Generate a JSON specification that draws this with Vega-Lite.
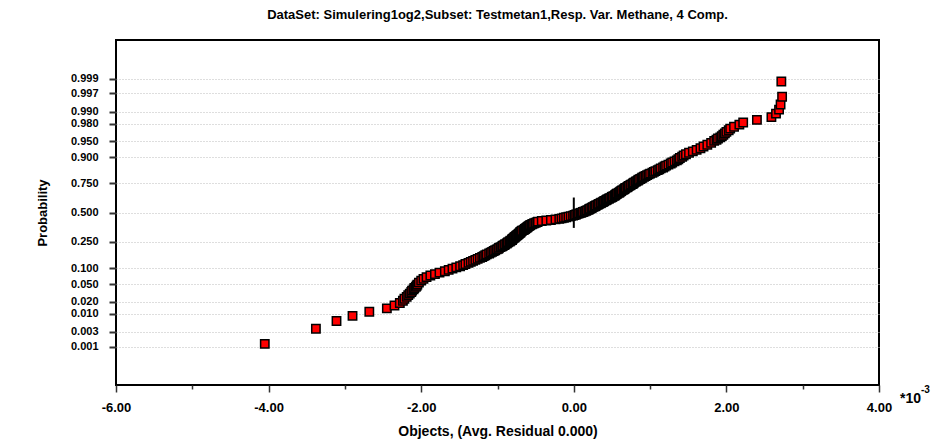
{
  "$schema": "https://vega.github.io/schema/vega-lite/v6.json",
  "width": 763,
  "height": 345,
  "autosize": {"type": "none"},
  "padding": {"left": 116, "top": 40, "right": 53, "bottom": 59},
  "background": "white",
  "title": {"text": "DataSet: Simulering1og2,Subset: Testmetan1,Resp. Var. Methane, 4 Comp.", "font": "Liberation Sans", "fontSize": 13, "fontWeight": "bold", "color": "black", "anchor": "middle", "offset": 18},
  "config": {"view": {"stroke": "black", "strokeWidth": 2}, "font": "Liberation Sans"},
  "resolve": {"scale": {"x": "shared", "y": "shared"}, "axis": {"x": "independent"}},
  "layer": [
    {
      "data": {"values": [
        {"res": -4.05, "score": -3.023}, {"res": -3.38, "score": -2.673}, {"res": -3.11, "score": -2.495}, {"res": -2.90, "score": -2.376}, {"res": -2.68, "score": -2.282},
        {"res": -2.45, "score": -2.204}, {"res": -2.35, "score": -2.138}, {"res": -2.28, "score": -2.080}, {"res": -2.24, "score": -2.029}, {"res": -2.22, "score": -1.982},
        {"res": -2.19, "score": -1.939}, {"res": -2.17, "score": -1.900}, {"res": -2.15, "score": -1.863}, {"res": -2.13, "score": -1.828}, {"res": -2.12, "score": -1.796},
        {"res": -2.10, "score": -1.765}, {"res": -2.09, "score": -1.736}, {"res": -2.07, "score": -1.709}, {"res": -2.06, "score": -1.682}, {"res": -2.05, "score": -1.657},
        {"res": -2.03, "score": -1.610}, {"res": -2.00, "score": -1.566}, {"res": -1.97, "score": -1.525}, {"res": -1.93, "score": -1.485}, {"res": -1.88, "score": -1.448},
        {"res": -1.82, "score": -1.414}, {"res": -1.76, "score": -1.381}, {"res": -1.69, "score": -1.348}, {"res": -1.64, "score": -1.318}, {"res": -1.59, "score": -1.289},
        {"res": -1.54, "score": -1.261}, {"res": -1.49, "score": -1.233}, {"res": -1.45, "score": -1.207}, {"res": -1.42, "score": -1.182}, {"res": -1.38, "score": -1.157},
        {"res": -1.35, "score": -1.133}, {"res": -1.32, "score": -1.109}, {"res": -1.29, "score": -1.086}, {"res": -1.26, "score": -1.064}, {"res": -1.23, "score": -1.042},
        {"res": -1.20, "score": -1.021}, {"res": -1.18, "score": -1.000}, {"res": -1.16, "score": -0.980}, {"res": -1.14, "score": -0.959}, {"res": -1.11, "score": -0.940},
        {"res": -1.09, "score": -0.921}, {"res": -1.07, "score": -0.901}, {"res": -1.05, "score": -0.883}, {"res": -1.03, "score": -0.865}, {"res": -1.01, "score": -0.846},
        {"res": -0.99, "score": -0.829}, {"res": -0.98, "score": -0.811}, {"res": -0.96, "score": -0.794}, {"res": -0.94, "score": -0.777}, {"res": -0.93, "score": -0.760},
        {"res": -0.91, "score": -0.743}, {"res": -0.90, "score": -0.727}, {"res": -0.88, "score": -0.711}, {"res": -0.87, "score": -0.694}, {"res": -0.86, "score": -0.679},
        {"res": -0.84, "score": -0.663}, {"res": -0.83, "score": -0.647}, {"res": -0.81, "score": -0.632}, {"res": -0.81, "score": -0.617}, {"res": -0.80, "score": -0.602},
        {"res": -0.79, "score": -0.587}, {"res": -0.78, "score": -0.572}, {"res": -0.77, "score": -0.557}, {"res": -0.76, "score": -0.543}, {"res": -0.75, "score": -0.528},
        {"res": -0.74, "score": -0.514}, {"res": -0.73, "score": -0.499}, {"res": -0.72, "score": -0.485}, {"res": -0.71, "score": -0.471}, {"res": -0.70, "score": -0.457},
        {"res": -0.70, "score": -0.444}, {"res": -0.69, "score": -0.430}, {"res": -0.68, "score": -0.416}, {"res": -0.66, "score": -0.402}, {"res": -0.65, "score": -0.389},
        {"res": -0.64, "score": -0.375}, {"res": -0.63, "score": -0.362}, {"res": -0.62, "score": -0.349}, {"res": -0.61, "score": -0.335}, {"res": -0.60, "score": -0.322},
        {"res": -0.59, "score": -0.309}, {"res": -0.58, "score": -0.296}, {"res": -0.57, "score": -0.283}, {"res": -0.55, "score": -0.270}, {"res": -0.54, "score": -0.257},
        {"res": -0.52, "score": -0.244}, {"res": -0.50, "score": -0.231}, {"res": -0.48, "score": -0.218}, {"res": -0.47, "score": -0.205}, {"res": -0.42, "score": -0.192},
        {"res": -0.36, "score": -0.180}, {"res": -0.30, "score": -0.167}, {"res": -0.24, "score": -0.154}, {"res": -0.19, "score": -0.142}, {"res": -0.16, "score": -0.129},
        {"res": -0.13, "score": -0.116}, {"res": -0.10, "score": -0.104}, {"res": -0.07, "score": -0.091}, {"res": -0.04, "score": -0.079}, {"res": -0.01, "score": -0.066},
        {"res": 0.01, "score": -0.053}, {"res": 0.03, "score": -0.041}, {"res": 0.05, "score": -0.028}, {"res": 0.07, "score": -0.016}, {"res": 0.09, "score": -0.003},
        {"res": 0.10, "score": 0.003}, {"res": 0.12, "score": 0.016}, {"res": 0.14, "score": 0.028}, {"res": 0.16, "score": 0.041}, {"res": 0.17, "score": 0.053},
        {"res": 0.19, "score": 0.066}, {"res": 0.20, "score": 0.079}, {"res": 0.21, "score": 0.091}, {"res": 0.23, "score": 0.104}, {"res": 0.24, "score": 0.116},
        {"res": 0.25, "score": 0.129}, {"res": 0.27, "score": 0.142}, {"res": 0.28, "score": 0.154}, {"res": 0.29, "score": 0.167}, {"res": 0.31, "score": 0.180},
        {"res": 0.32, "score": 0.192}, {"res": 0.33, "score": 0.205}, {"res": 0.35, "score": 0.218}, {"res": 0.36, "score": 0.231}, {"res": 0.38, "score": 0.244},
        {"res": 0.39, "score": 0.257}, {"res": 0.40, "score": 0.270}, {"res": 0.42, "score": 0.283}, {"res": 0.43, "score": 0.296}, {"res": 0.44, "score": 0.309},
        {"res": 0.46, "score": 0.322}, {"res": 0.47, "score": 0.335}, {"res": 0.49, "score": 0.349}, {"res": 0.50, "score": 0.362}, {"res": 0.51, "score": 0.375},
        {"res": 0.53, "score": 0.389}, {"res": 0.54, "score": 0.402}, {"res": 0.55, "score": 0.416}, {"res": 0.56, "score": 0.430}, {"res": 0.57, "score": 0.444},
        {"res": 0.59, "score": 0.457}, {"res": 0.60, "score": 0.471}, {"res": 0.61, "score": 0.485}, {"res": 0.62, "score": 0.499}, {"res": 0.63, "score": 0.514},
        {"res": 0.65, "score": 0.528}, {"res": 0.66, "score": 0.543}, {"res": 0.67, "score": 0.557}, {"res": 0.68, "score": 0.572}, {"res": 0.70, "score": 0.587},
        {"res": 0.71, "score": 0.602}, {"res": 0.72, "score": 0.617}, {"res": 0.74, "score": 0.632}, {"res": 0.75, "score": 0.647}, {"res": 0.77, "score": 0.663},
        {"res": 0.78, "score": 0.679}, {"res": 0.79, "score": 0.694}, {"res": 0.81, "score": 0.711}, {"res": 0.82, "score": 0.727}, {"res": 0.84, "score": 0.743},
        {"res": 0.85, "score": 0.760}, {"res": 0.87, "score": 0.777}, {"res": 0.89, "score": 0.794}, {"res": 0.90, "score": 0.811}, {"res": 0.92, "score": 0.829},
        {"res": 0.94, "score": 0.846}, {"res": 0.96, "score": 0.865}, {"res": 0.98, "score": 0.883}, {"res": 1.00, "score": 0.901}, {"res": 1.03, "score": 0.921},
        {"res": 1.05, "score": 0.940}, {"res": 1.07, "score": 0.959}, {"res": 1.10, "score": 0.980}, {"res": 1.12, "score": 1.000}, {"res": 1.14, "score": 1.021},
        {"res": 1.17, "score": 1.042}, {"res": 1.19, "score": 1.064}, {"res": 1.21, "score": 1.086}, {"res": 1.24, "score": 1.109}, {"res": 1.27, "score": 1.133},
        {"res": 1.29, "score": 1.157}, {"res": 1.32, "score": 1.182}, {"res": 1.35, "score": 1.207}, {"res": 1.37, "score": 1.233}, {"res": 1.39, "score": 1.261},
        {"res": 1.42, "score": 1.289}, {"res": 1.44, "score": 1.318}, {"res": 1.47, "score": 1.348}, {"res": 1.51, "score": 1.381}, {"res": 1.56, "score": 1.414},
        {"res": 1.61, "score": 1.448}, {"res": 1.66, "score": 1.485}, {"res": 1.70, "score": 1.525}, {"res": 1.75, "score": 1.566}, {"res": 1.80, "score": 1.610},
        {"res": 1.84, "score": 1.657}, {"res": 1.87, "score": 1.682}, {"res": 1.89, "score": 1.709}, {"res": 1.92, "score": 1.736}, {"res": 1.94, "score": 1.765},
        {"res": 1.96, "score": 1.796}, {"res": 1.98, "score": 1.828}, {"res": 2.00, "score": 1.863}, {"res": 2.03, "score": 1.900}, {"res": 2.05, "score": 1.939},
        {"res": 2.10, "score": 1.982}, {"res": 2.17, "score": 2.029}, {"res": 2.22, "score": 2.080}, {"res": 2.40, "score": 2.138}, {"res": 2.59, "score": 2.204},
        {"res": 2.65, "score": 2.282}, {"res": 2.69, "score": 2.376}, {"res": 2.71, "score": 2.495}, {"res": 2.73, "score": 2.673}, {"res": 2.72, "score": 3.023}
      ]},
      "mark": {"type": "point", "shape": "square", "filled": true, "fill": "#ff0000", "stroke": "black", "strokeWidth": 1.5, "size": 70, "opacity": 1},
      "encoding": {
        "x": {
          "field": "res", "type": "quantitative",
          "scale": {"domain": [-6, 4], "nice": false, "zero": false},
          "axis": {
            "values": [-6, -4, -2, 0, 2, 4],
            "tickCount": 20,
            "labelExpr": "replace(format(datum.value, '.2f'), '\u2212', '-')",
            "labelFont": "Liberation Sans", "labelFontSize": 13, "labelFontWeight": "bold", "labelColor": "black",
            "labelPadding": 9, "labelFlush": false, "labelOverlap": false,
            "tickSize": 7, "tickColor": "#333333", "tickWidth": 1.5,
            "domain": false, "grid": false,
            "title": "Objects, (Avg. Residual 0.000)",
            "titleFont": "Liberation Sans", "titleFontSize": 14, "titleFontWeight": "bold", "titleColor": "black", "titlePadding": 10
          }
        },
        "y": {
          "field": "score", "type": "quantitative",
          "scale": {"domain": [-3.97, 3.98], "nice": false, "zero": false},
          "axis": {
            "values": [-3.0902, -2.7478, -2.3263, -2.0537, -1.6449, -1.2816, -0.6745, 0, 0.6745, 1.2816, 1.6449, 2.0537, 2.3263, 2.7478, 3.0902],
            "tickCount": 30,
            "labelExpr": "format(cumulativeNormal(datum.value), '.3f')",
            "labelFont": "Liberation Sans", "labelFontSize": 11, "labelFontWeight": "bold", "labelColor": "black",
            "labelPadding": 11, "labelOverlap": false, "labelBound": false, "labelFlush": false,
            "tickSize": 7, "tickColor": "#333333", "tickWidth": 2,
            "domain": false,
            "grid": true, "gridColor": "#bdbdbd", "gridDash": [1, 2], "gridWidth": 1,
            "title": "Probability",
            "titleFont": "Liberation Sans", "titleFontSize": 13, "titleFontWeight": "bold", "titleColor": "black", "titlePadding": 21
          }
        }
      }
    },
    {
      "data": {"values": [{}]},
      "mark": {"type": "rule", "color": "black", "strokeWidth": 2},
      "encoding": {
        "x": {"datum": 0, "type": "quantitative", "axis": {"orient": "bottom", "values": [-5, -3, -1, 1, 3], "tickCount": 20, "labels": false, "domain": false, "grid": false, "title": null, "tickSize": 4, "tickColor": "#333333", "tickWidth": 1.5}},
        "y": {"datum": -0.35, "type": "quantitative"},
        "y2": {"datum": 0.35}
      }
    },
    {
      "data": {"values": [{}]},
      "mark": {"type": "text", "text": "*10", "align": "left", "baseline": "middle", "dx": 21, "dy": 14, "font": "Liberation Sans", "fontSize": 14, "fontWeight": "bold", "color": "black"},
      "encoding": {
        "x": {"datum": 4, "type": "quantitative", "axis": null},
        "y": {"datum": -3.97, "type": "quantitative"}
      }
    },
    {
      "data": {"values": [{}]},
      "mark": {"type": "text", "text": "-3", "align": "left", "baseline": "middle", "dx": 42, "dy": 5, "font": "Liberation Sans", "fontSize": 10, "fontWeight": "bold", "color": "black"},
      "encoding": {
        "x": {"datum": 4, "type": "quantitative", "axis": null},
        "y": {"datum": -3.97, "type": "quantitative"}
      }
    }
  ]
}
